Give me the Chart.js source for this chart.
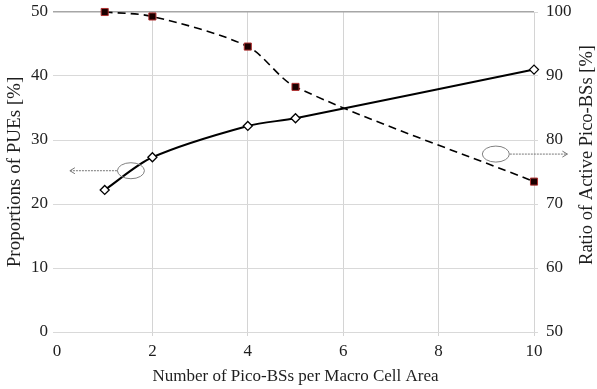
<!DOCTYPE html>
<html>
<head>
<meta charset="utf-8">
<script src="https://cdn.jsdelivr.net/npm/chart.js@4.4.0/dist/chart.umd.min.js"></script>
<style>
  html, body { margin: 0; padding: 0; background: #fff; }
  #wrap { width: 597px; height: 389px; }
</style>
</head>
<body>
<div id="wrap"><canvas id="chart" width="597" height="389"></canvas></div>
<script>
// valores
const picoBSs = [1, 2, 4, 5, 10];
const propPUEs = [22.2, 27.3, 32.2, 33.4, 41.0];     // eixo esquerdo
const ratioActive = [100, 99.3, 94.6, 88.3, 73.5];  // eixo direito
const xTicks = [0, 2, 4, 6, 8, 10];
const leftTicks = [0, 10, 20, 30, 40, 50];
const rightTicks = [50, 60, 70, 80, 90, 100];
const rightTitle = 'Ratio of Active Pico-BSs [%]';

// elipses + setas (em unidades dos dados)
const marcadores = [
    { x: 1.55, y: 25.2, arrowTo: 0.27 },
    { x: 9.2, y: 27.8, arrowTo: 10.7 }
];

const serif = "'Liberation Serif', 'DejaVu Serif', serif";
const corTexto = '#1e1e1e';

const elipsesPlugin = {
    id: 'elipses',
    afterDatasetsDraw(chart) {
        const ctx = chart.ctx;
        const xs = chart.scales.x, ys = chart.scales.y;
        ctx.save();
        marcadores.forEach(m => {
            const cx = xs.getPixelForValue(m.x);
            const cy = ys.getPixelForValue(m.y);
            const ex = xs.getPixelForValue(m.arrowTo);
            const dir = ex < cx ? -1 : 1;
            // seta pontilhada
            ctx.strokeStyle = '#777';
            ctx.lineWidth = 1;
            ctx.setLineDash([2, 1]);
            ctx.beginPath();
            ctx.moveTo(cx + dir * 14, cy);
            ctx.lineTo(ex, cy);
            ctx.stroke();
            ctx.setLineDash([]);
            ctx.beginPath();
            ctx.moveTo(ex - dir * 5, cy - 3);
            ctx.lineTo(ex, cy);
            ctx.lineTo(ex - dir * 5, cy + 3);
            ctx.stroke();
            // elipse
            ctx.strokeStyle = '#808080';
            ctx.beginPath();
            ctx.ellipse(cx, cy, 13.5, 8, 0, 0, Math.PI * 2);
            ctx.stroke();
        });
        // titulo do eixo direito, lido de baixo para cima
        ctx.translate(587, 155);
        ctx.rotate(-Math.PI / 2);
        ctx.fillStyle = corTexto;
        ctx.font = '18.5px ' + serif;
        ctx.textAlign = 'center';
        ctx.textBaseline = 'middle';
        ctx.fillText(rightTitle, 0, 0);
        ctx.restore();
    }
};

// tira o padding automatico dos eixos verticais
function fixaEixo(largura) {
    return axis => {
        axis.width = largura;
        axis.paddingTop = 0;
        axis.paddingBottom = 0;
    };
}

const ctx = document.getElementById('chart').getContext('2d');

new Chart(ctx, {
    type: 'line',
    data: {
        datasets: [
            {
                label: 'Proportions of PUEs',
                data: picoBSs.map((v, i) => ({ x: v, y: propPUEs[i] })),
                yAxisID: 'y',
                clip: false,
                borderColor: '#000',
                borderWidth: 2,
                tension: 0.3,
                pointStyle: 'rectRot',
                pointRadius: 4.5,
                pointBackgroundColor: '#fff',
                pointBorderColor: '#000',
                pointBorderWidth: 1.3
            },
            {
                label: 'Ratio of Active Pico-BSs',
                data: picoBSs.map((v, i) => ({ x: v, y: ratioActive[i] })),
                yAxisID: 'y2',
                clip: false,
                borderColor: '#000',
                borderWidth: 1.6,
                borderDash: [8, 5],
                tension: 0.3,
                pointStyle: 'rect',
                pointRadius: 5,
                pointBackgroundColor: '#1a0000',
                pointBorderColor: '#b03030',
                pointBorderWidth: 1
            }
        ]
    },
    options: {
        responsive: false,
        animation: false,
        maintainAspectRatio: false,
        layout: { padding: { top: 12, right: 0, left: 0, bottom: 0 } },
        plugins: { legend: { display: false }, tooltip: { enabled: false } },
        scales: {
            x: {
                type: 'linear',
                min: 0, max: 10,
                afterBuildTicks: axis => { axis.ticks = xTicks.map(v => ({ value: v })); },
                afterFit: axis => { axis.height = 57; axis.paddingLeft = 0; axis.paddingRight = 0; },
                border: { display: false },
                grid: {
                    color: c => c.tick && c.tick.value === 0 ? 'rgba(0,0,0,0)' : '#d4d4d4',
                    tickLength: 4
                },
                ticks: { color: corTexto, font: { family: serif, size: 17 }, padding: 5 },
                title: {
                    display: true,
                    text: 'Number of Pico-BSs per Macro Cell Area',
                    color: corTexto,
                    font: { family: serif, size: 17 },
                    padding: { top: 0, bottom: 2 }
                }
            },
            y: {
                position: 'left',
                min: 0, max: 50,
                afterBuildTicks: axis => { axis.ticks = leftTicks.map(v => ({ value: v })); },
                afterFit: fixaEixo(57),
                border: { display: false },
                grid: {
                    color: c => c.tick && c.tick.value === 50 ? '#a6a6a6' : '#d9d9d9',
                    lineWidth: c => c.tick && c.tick.value === 50 ? 1.5 : 1,
                    tickLength: 4
                },
                ticks: { color: corTexto, font: { family: serif, size: 17 }, padding: 5 },
                title: {
                    display: true,
                    text: 'Proportions of PUEs [%]',
                    color: corTexto,
                    font: { family: serif, size: 19 },
                    padding: { top: 4, bottom: 0 }
                }
            },
            y2: {
                position: 'right',
                min: 50, max: 100,
                afterBuildTicks: axis => { axis.ticks = rightTicks.map(v => ({ value: v })); },
                afterFit: fixaEixo(63),
                border: { display: false },
                grid: { drawOnChartArea: false, color: '#d9d9d9', tickLength: 4 },
                ticks: { color: corTexto, font: { family: serif, size: 17 }, padding: 8 },
                title: { display: false }
            }
        }
    },
    plugins: [elipsesPlugin]
});
</script>
</body>
</html>
